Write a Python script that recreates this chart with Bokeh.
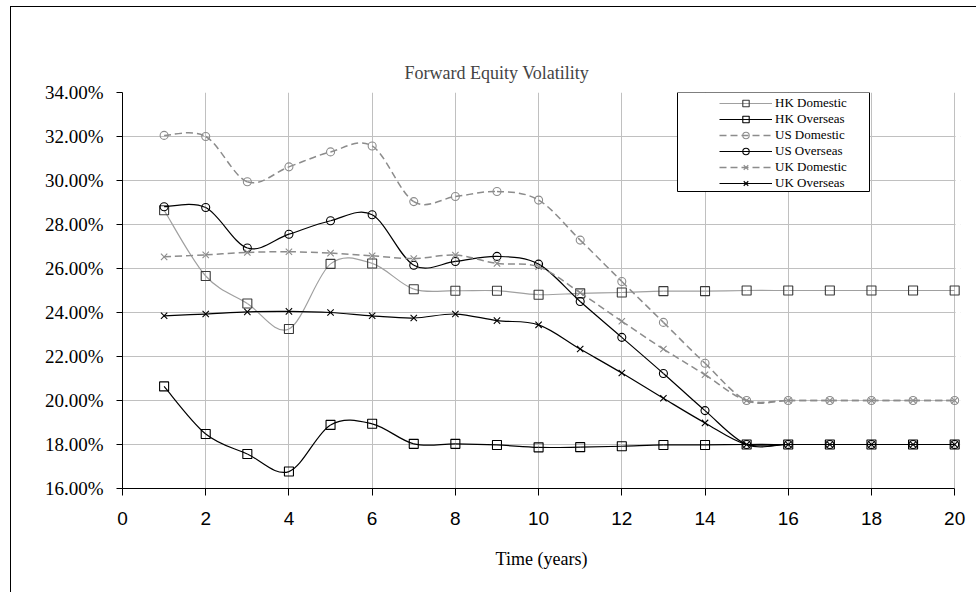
from bokeh.plotting import figure
from bokeh.models import (Legend, LegendItem, BoxAnnotation, PrintfTickFormatter,
                          Range1d, ColumnDataSource)
from bokeh.embed import file_html
from bokeh.resources import INLINE

# ---------------- data (values in %) ----------------
years = list(range(1, 21))
hk_domestic = [28.65, 25.66, 24.41, 23.25, 26.21, 26.23, 25.06, 24.99, 24.99, 24.81,
               24.87, 24.91, 24.97, 24.97, 25.00, 25.00, 25.00, 25.00, 25.00, 25.00]
hk_overseas = [20.64, 18.48, 17.57, 16.77, 18.89, 18.94, 18.03, 18.03, 17.98, 17.87,
               17.88, 17.92, 17.98, 17.98, 18.00, 18.00, 18.00, 18.00, 18.00, 18.00]
us_domestic = [32.05, 32.00, 29.94, 30.62, 31.30, 31.57, 29.04, 29.27, 29.50, 29.11,
               27.29, 25.41, 23.55, 21.69, 20.00, 20.00, 20.00, 20.00, 20.00, 20.00]
us_overseas = [28.81, 28.77, 26.93, 27.56, 28.17, 28.44, 26.15, 26.32, 26.55, 26.20,
               24.50, 22.87, 21.23, 19.54, 18.00, 18.00, 18.00, 18.00, 18.00, 18.00]
uk_domestic = [26.53, 26.62, 26.73, 26.76, 26.70, 26.58, 26.45, 26.61, 26.23, 26.08,
               24.90, 23.60, 22.34, 21.17, 20.00, 20.00, 20.00, 20.00, 20.00, 20.00]
uk_overseas = [23.85, 23.93, 24.03, 24.05, 24.00, 23.85, 23.75, 23.93, 23.63, 23.44,
               22.34, 21.25, 20.10, 18.98, 18.00, 18.00, 18.00, 18.00, 18.00, 18.00]

series_names = ["HK Domestic", "HK Overseas", "US Domestic", "US Overseas",
                "UK Domestic", "UK Overseas"]
x_ticks = list(range(0, 21, 2))
y_ticks = list(range(16, 35, 2))

SERIF = "Liberation Serif"
SANS = "Liberation Sans"

styles = {
    "HK Domestic": dict(values=hk_domestic, line_color="#a0a0a0", line_dash="solid", line_width=1.2,
                        marker="square", marker_color="#3a3a3a", size=9),
    "HK Overseas": dict(values=hk_overseas, line_color="#000000", line_dash="solid", line_width=1.2,
                        marker="square", marker_color="#000000", size=9),
    "US Domestic": dict(values=us_domestic, line_color="#8c8c8c", line_dash="7 4", line_width=1.5,
                        marker="circle", marker_color="#8c8c8c", size=8),
    "US Overseas": dict(values=us_overseas, line_color="#000000", line_dash="solid", line_width=1.2,
                        marker="circle", marker_color="#000000", size=8),
    "UK Domestic": dict(values=uk_domestic, line_color="#8c8c8c", line_dash="7 4", line_width=1.5,
                        marker="x", marker_color="#8c8c8c", size=9),
    "UK Overseas": dict(values=uk_overseas, line_color="#000000", line_dash="solid", line_width=1.2,
                        marker="x", marker_color="#000000", size=9),
}


def smooth_segments(xs, ys):
    """Cubic Bezier segments through the data points (Excel-style smoothing)."""
    n = len(xs)
    d = dict(x0=[], y0=[], x1=[], y1=[], cx0=[], cy0=[], cx1=[], cy1=[])
    for i in range(n - 1):
        a = max(i - 1, 0)
        b = min(i + 2, n - 1)
        d["x0"].append(xs[i]); d["y0"].append(ys[i])
        d["x1"].append(xs[i + 1]); d["y1"].append(ys[i + 1])
        d["cx0"].append(xs[i] + (xs[i + 1] - xs[a]) / 6.0)
        d["cy0"].append(ys[i] + (ys[i + 1] - ys[a]) / 6.0)
        d["cx1"].append(xs[i + 1] - (xs[b] - xs[i]) / 6.0)
        d["cy1"].append(ys[i + 1] - (ys[b] - ys[i]) / 6.0)
    return ColumnDataSource(d)


x_end = x_ticks[-1]
# a little room past the last tick so the end markers are not clipped
p = figure(width=966, height=586, output_backend="svg", toolbar_location=None,
           x_range=Range1d(x_ticks[0], x_end + 0.14), y_range=Range1d(y_ticks[0], y_ticks[-1]),
           title="Forward Equity Volatility",
           min_border_left=111, min_border_right=17, min_border_top=85, min_border_bottom=105)
p.styles = {"border-left": "1px solid #000000", "border-top": "1px solid #000000",
            "margin-left": "10px", "margin-top": "6px"}

p.background_fill_color = "white"
p.border_fill_color = "white"
p.outline_line_color = None

p.title.align = "left"
p.title.offset = 282
p.title.text_font = SERIF
p.title.text_font_size = "18px"
p.title.text_font_style = "normal"
p.title.standoff = 20

p.xgrid.grid_line_color = "#c0c0c0"
p.ygrid.grid_line_color = "#c0c0c0"

p.xaxis.ticker = x_ticks
p.yaxis.ticker = y_ticks
p.xaxis.bounds = (x_ticks[0], x_end)
p.yaxis.formatter = PrintfTickFormatter(format="%.2f%%")
for ax in (p.xaxis[0], p.yaxis[0]):
    ax.axis_line_color = "black"
    ax.major_tick_line_color = "black"
    ax.minor_tick_line_color = None
    ax.major_tick_in = 0
p.yaxis.major_tick_out = 6
p.xaxis.major_tick_out = 7
p.yaxis.major_label_text_font = SERIF
p.yaxis.major_label_text_font_size = "19px"
p.yaxis.major_label_text_color = "black"
p.yaxis.major_label_standoff = 13
p.xaxis.major_label_text_font = SANS
p.xaxis.major_label_text_font_size = "19px"
p.xaxis.major_label_text_color = "black"
p.xaxis.major_label_standoff = 16
p.xaxis.axis_label = "Time (years)"
p.xaxis.axis_label_text_font = SERIF
p.xaxis.axis_label_text_font_size = "18px"
p.xaxis.axis_label_text_font_style = "normal"
p.xaxis.axis_label_text_color = "black"
p.xaxis.axis_label_standoff = 21

# white strip hiding the grid beyond the last tick (kept under the glyphs)
cover = BoxAnnotation(left=x_end + 0.02, left_units="data", fill_color="white",
                      fill_alpha=1.0, line_color=None, level="underlay")
p.add_layout(cover)

items = []
for name in series_names:
    st = styles[name]
    src = smooth_segments(years, st["values"])
    br = p.bezier(x0="x0", y0="y0", x1="x1", y1="y1", cx0="cx0", cy0="cy0",
                  cx1="cx1", cy1="cy1", source=src, line_color=st["line_color"],
                  line_width=st["line_width"], line_dash=st["line_dash"])
    sr = p.scatter(years, st["values"], marker=st["marker"], size=st["size"],
                   line_color=st["marker_color"], fill_color=None, line_width=1.1)
    items.append(LegendItem(label=name, renderers=[br, sr]))

box = BoxAnnotation(left=555, right=747, top=396, bottom=297,
                    left_units="screen", right_units="screen",
                    top_units="screen", bottom_units="screen",
                    fill_color="white", fill_alpha=1.0,
                    line_color="black", line_width=1, line_alpha=1.0)
p.add_layout(box)

legend = Legend(items=items, location=(597, 297), padding=1, spacing=0,
                glyph_width=53, glyph_height=16, label_height=16, label_standoff=3,
                label_text_font=SERIF, label_text_font_size="13px",
                label_text_color="black",
                border_line_color=None, background_fill_alpha=0, margin=0)
p.add_layout(legend)

open("out.html", "w").write(file_html(p, INLINE))
